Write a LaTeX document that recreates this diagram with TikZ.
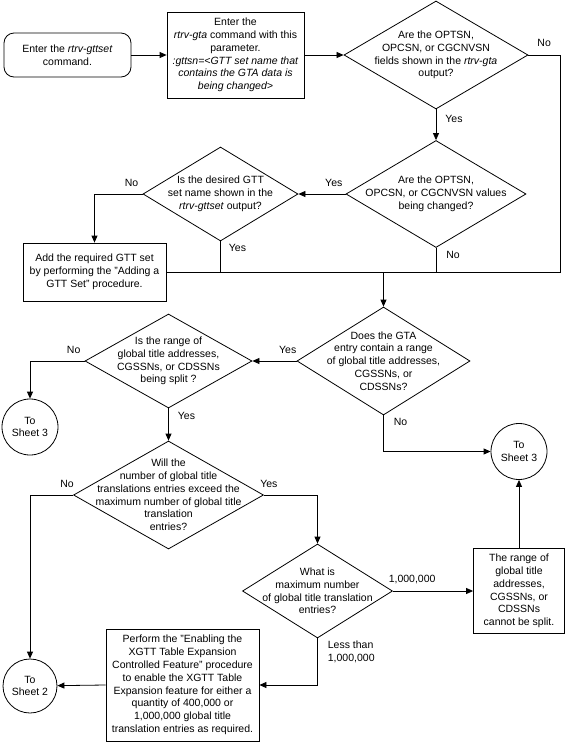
\documentclass[tikz,border=0pt]{standalone}
\usepackage{fontspec}
\setsansfont{Liberation Sans}
\usetikzlibrary{arrows.meta,shapes,calc,math}
\tikzset{every picture/.style={/utils/exec={\sffamily\fontsize{10.5}{12.8}\selectfont}}}
\tikzset{process/.style={draw,rectangle,align=center,inner sep=0pt,line width=0.8pt}}
\tikzset{terminal/.style={process,rounded corners=10pt}}
\tikzset{decision/.style={draw,diamond,inner sep=0pt,line width=0.8pt}}
\tikzset{question/.style={align=center,inner sep=0pt}}
\tikzset{offpage/.style={draw,circle,align=center,inner sep=0pt,line width=0.8pt}}
\tikzset{link/.style={line width=0.8pt}}
\tikzset{flow/.style={-{Triangle[length=7pt,width=6pt]}, line width=0.8pt}}
\tikzset{answer/.style={inner sep=1pt}}

\begin{document}
\begin{tikzpicture}[x=1pt,y=-1pt]
    \tikzmath{\rx=560;\my=272;}
    \useasboundingbox (0,0) rectangle (565,742);
    \node [terminal,minimum width=127,minimum height=44] (start) at (67.5,55) {Enter the \textit{rtrv-gttset}\\command.};
    \node [process,minimum width=137,minimum height=86] (enter) at (235.5,55) {Enter the\\\textit{rtrv-gta} command with this\\parameter.\\\textit{:gttsn=<GTT set name that}\\\textit{contains the GTA data is}\\\textit{being changed>}};
    \node [decision,minimum width=184,minimum height=108,label={[question]center:{Are the OPTSN,\\OPCSN, or CGCNVSN\\fields shown in the \textit{rtrv-gta}\\output?}}] (d1) at (436,55) {};
    \node [decision,minimum width=180,minimum height=107,label={[question]center:{Are the OPTSN,\\OPCSN, or CGCNVSN values\\being changed?}}] (d2) at (436,194) {};
    \node [decision,minimum width=155,minimum height=94,label={[question]center:{Is the desired GTT\\set name shown in the\\\textit{rtrv-gttset} output?}}] (d3) at (220.5,194) {};
    \node [process,minimum width=143,minimum height=58] (add) at (94.5,\my) {Add the required GTT set\\by performing the "Adding a\\GTT Set" procedure.};
    \node [decision,minimum width=173,minimum height=108,label={[question]center:{Does the GTA\\entry contain a range\\of global title addresses,\\CGSSNs, or\\CDSSNs?}}] (d4) at (383.5,361) {};
    \node [decision,minimum width=167,minimum height=94,label={[question]center:{Is the range of\\global title addresses,\\CGSSNs, or CDSSNs\\being split ?}}] (d5) at (168.5,361) {};
    \node [offpage,minimum size=56] (s3a) at (30,427) {To\\Sheet 3};
    \node [offpage,minimum size=56] (s3b) at (519,451.5) {To\\Sheet 3};
    \node [decision,minimum width=190,minimum height=108,label={[question]center:{Will the\\number of global title\\translations entries exceed the\\maximum number of global title\\translation\\entries?}}] (d6) at (168.5,495) {};
    \node [decision,minimum width=150,minimum height=94,label={[question]center:{What is\\maximum number\\of global title translation\\entries?}}] (d7) at (317.5,591) {};
    \node [process,minimum width=91,minimum height=85] (cant) at (519,591) {The range of\\global title\\addresses,\\CGSSNs, or\\CDSSNs\\cannot be split.};
    \node [process,minimum width=153,minimum height=112] (perf) at (182.5,685) {Perform the "Enabling the\\XGTT Table Expansion\\Controlled Feature" procedure\\to enable the XGTT Table\\Expansion feature for either a\\quantity of 400,000 or\\1,000,000 global title\\translation entries as required.};
    \node [offpage,minimum size=54] (s2) at (30,686) {To\\Sheet 2};

    \draw [flow] (start) -- (enter);
    \draw [flow] (enter) -- (d1);
    \draw [link] (d1.east) -- node [answer,above=7pt] {No} (\rx,55) -- (\rx,\my) -- (add.east);
    \draw [flow] (d1.south) -- node [answer,pos=0.3,right=8pt] {Yes} (d2.north);
    \draw [flow] (d2.west) -- node [answer,pos=0.25,above=6pt] {Yes} (d3.east);
    \draw [link] (d2.south) -- node [answer,pos=0.28,right=9pt] {No} (d2.south |- add.east);
    \draw [link] (d3.south) -- node [answer,pos=0.2,right=7pt] {Yes} (d3.south |- add.east);
    \draw [flow] (d3.west) -| node [answer,pos=0.115,above=6pt] {No} (add.north);
    \draw [flow] (d4.north |- add.east) -- (d4.north);
    \draw [flow] (d4.west) -- node [answer,pos=0.2,above=6pt] {Yes} (d5.east);
    \draw [flow] (d4.south) |- node [answer,pos=0.095,right=9pt] {No} (s3b.west);
    \draw [flow] (d5.west) -| node [answer,pos=0.1,above=6pt] {No} (s3a.north);
    \draw [flow] (d5.south) -- node [answer,pos=0.24,right=8pt] {Yes} (d6.north);
    \draw [flow] (d6.west) -| node [answer,pos=0.07,above=6pt] {No} (s2.north);
    \draw [flow] (d6.east) -| node [answer,pos=0.046,above=6pt] {Yes} (d7.north);
    \draw [flow] (d7.east) -- node [answer,pos=0.24,above=6pt] {1,000,000} (cant.west);
    \draw [flow] (cant.north) -- (s3b.south);
    \draw [flow] (d7.south) |- node [answer,pos=0.146,right=9pt,align=left] {Less than\\1,000,000} (perf.east);
    \draw [flow] (perf.west) -- (s2);
\end{tikzpicture}
\end{document}
